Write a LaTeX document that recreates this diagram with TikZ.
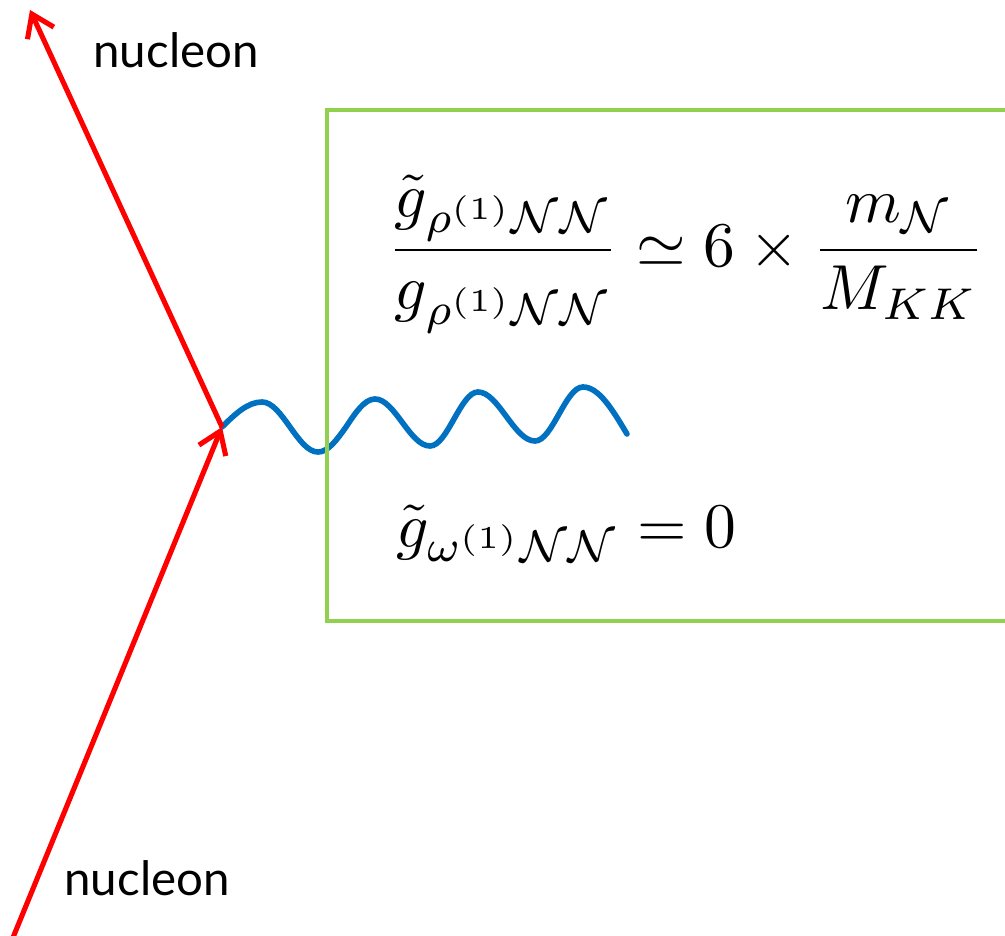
\documentclass[tikz,border=0pt]{standalone}
\usepackage{fontspec}
\usepackage{amsmath}
\usepackage{tikz}
\usetikzlibrary{arrows.meta, positioning}
\newfontfamily\labelfont{Lato}
\definecolor{nucleonred}{HTML}{FF0000}
\definecolor{mesonblue}{HTML}{0070C0}
\definecolor{boxgreen}{HTML}{92D050}

\begin{document}
\begin{tikzpicture}[
      x=0.02cm, y=-0.02cm,
      fermion/.style={draw=nucleonred, line width=2.9pt, -{Straight Barb[length=0.42cm, width=0.58cm]}},
      boson/.style={draw=mesonblue, line width=3.2pt, line cap=round},
      frame/.style={draw=boxgreen, line width=2.6pt},
      labeltext/.style={font=\labelfont\fontsize{27}{30}\selectfont, inner sep=0pt},
      formula/.style={scale=3.62, inner sep=0pt}
  ]
      \useasboundingbox (0,0) rectangle (1005,936);

      % Vertex and free ends
      \coordinate (v) at (222,427);
      \coordinate (ntop) at (30,10);
      \coordinate (nbot) at (12,940);

      % Exchanged meson
      \draw[boson] (v) sin +(40,-25) cos +(28,25) sin +(28,25) cos +(28,-25)
            sin +(29,-28) cos +(27,23) sin +(28,24) cos +(24,-27) sin +(24,-27)
            cos +(28,24) sin +(29,25) cos +(24,-27) sin +(24,-27) cos +(44,47);

      % Coupling box
      \draw[frame] (1010,110) -- (327,110) -- (327,621) -- (1010,621);

      % Nucleon lines
      \draw[fermion] (nbot) -- (v);
      \draw[fermion] (v) -- (ntop);

      % Labels
      \node[labeltext] (toplabel) at (176,50) {nucleon};
      \node[labeltext] (botlabel) at (147,878) {nucleon};

      % Couplings
      \node[formula, anchor=base] (ratio) at (686,266)
            {$\displaystyle \frac{\tilde g_{\rho^{(1)}\mathcal{N}\mathcal{N}}}{g_{\rho^{(1)}\mathcal{N}\mathcal{N}}} \simeq 6\times\frac{m_{\mathcal{N}}}{M_{KK}}$};
      \node[formula, anchor=base west] (omega) at (395,547)
            {$\tilde g_{\omega^{(1)}\mathcal{N}\mathcal{N}} = 0$};
  \end{tikzpicture}
\end{document}
